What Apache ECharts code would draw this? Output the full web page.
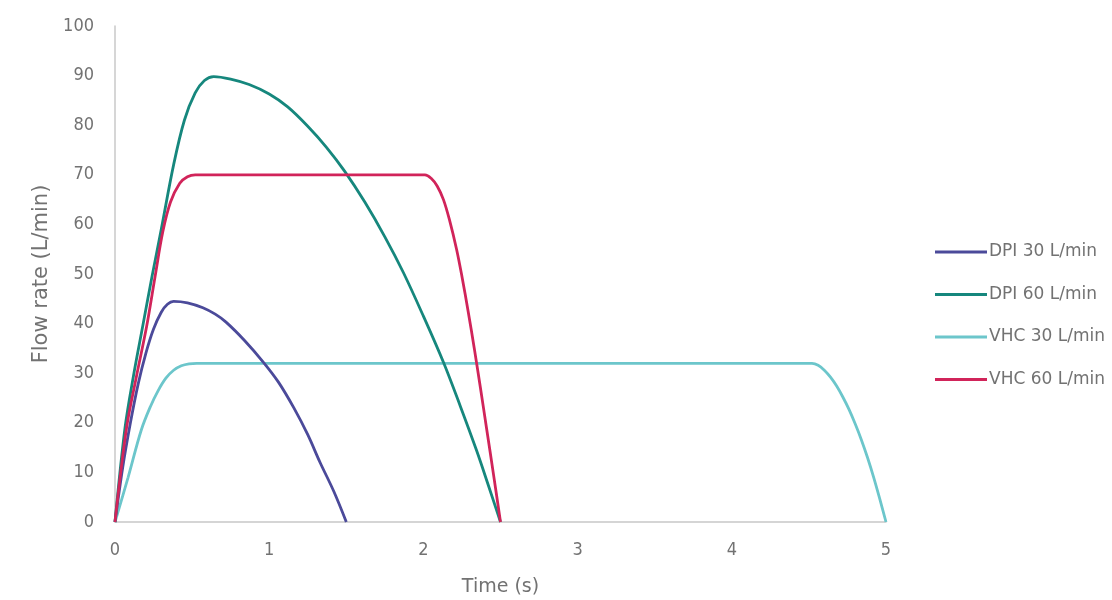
<!DOCTYPE html>
<html>
<head>
<meta charset="utf-8">
<script src="https://cdn.jsdelivr.net/npm/echarts@6/dist/echarts.min.js"></script>
<style>
html,body{margin:0;padding:0;background:#fff;}
#c{width:1112px;height:600px;}
</style>
</head>
<body>
<div id="c"></div>
<script>
var seriesNames = ['DPI 30 L/min', 'DPI 60 L/min', 'VHC 30 L/min', 'VHC 60 L/min'];
var xTicks = [0, 1, 2, 3, 4, 5];
var yTicks = [0, 10, 20, 30, 40, 50, 60, 70, 80, 90, 100];
// [time (s), flow rate (L/min)]
var dpi30 = [[0,0],[0.05,11],[0.1,20],[0.15,27.8],[0.2,34],[0.25,38.9],[0.3,42.3],[0.34,43.9],[0.38,44.5],[0.47,44.2],[0.57,43.2],[0.65,41.9],[0.72,40.3],[0.84,36.6],[0.96,32.3],[1.06,28.2],[1.16,23.0],[1.25,17.6],[1.33,12.0],[1.42,6.1],[1.5,0]];
var dpi60 = [[0,0],[0.065,19],[0.12,29.5],[0.18,39.5],[0.24,49.5],[0.3,59],[0.38,72],[0.45,81],[0.52,86.5],[0.58,89],[0.64,89.8],[0.75,89.3],[0.87,88.2],[1.0,86.3],[1.12,83.7],[1.25,79.8],[1.37,75.6],[1.49,70.7],[1.62,64.5],[1.75,57.5],[1.87,50.3],[2.0,41.5],[2.13,32.2],[2.24,23.3],[2.345,14.4],[2.42,7.5],[2.5,0]];
var vhc30 = [[0,0],[0.085,9],[0.17,18.5],[0.23,23.3],[0.28,26.5],[0.33,29],[0.38,30.6],[0.43,31.5],[0.48,31.9],[0.53,32],[4.52,32],[4.56,31.6],[4.6,30.6],[4.64,29.2],[4.68,27.4],[4.72,25.2],[4.76,22.7],[4.8,19.8],[4.84,16.6],[4.88,13],[4.92,9],[4.96,4.6],[5,0]];
var vhc60 = [[0,0],[0.075,19],[0.14,29.5],[0.205,39.4],[0.26,49.5],[0.31,58.5],[0.36,64.5],[0.42,68.3],[0.47,69.6],[0.52,70],[2.01,70],[2.05,69.3],[2.09,67.7],[2.13,65],[2.17,60.8],[2.215,55],[2.25,49.5],[2.29,42.5],[2.33,35],[2.37,27],[2.41,18.8],[2.455,9.5],[2.5,0]];
var colors = ['#4b4a9a', '#16877d', '#6cc6cb', '#d1245a'];

var fontFam = '"DejaVu Sans", sans-serif';
var numFam = '"DejaVu Sans Condensed", "DejaVu Sans", sans-serif';
var txtCol = '#727272';

var chart = echarts.init(document.getElementById('c'), null, {renderer: 'canvas'});
var dataArr = [dpi30, dpi60, vhc30, vhc60];
chart.setOption({
  animation: false,
  backgroundColor: '#ffffff',
  grid: {left: 115, right: 226, top: 26, bottom: 78, containLabel: false, outerBoundsMode: 'none'},
  legend: {
    orient: 'vertical',
    left: 930,
    top: 237,
    icon: 'rect',
    itemWidth: 52,
    itemHeight: 3,
    itemGap: 22.5,
    data: seriesNames,
    textStyle: {color: txtCol, fontSize: 17, fontFamily: fontFam, lineHeight: 20, padding: [0,0,0,-3]}
  },
  xAxis: {
    type: 'value',
    min: xTicks[0],
    max: xTicks[xTicks.length - 1],
    interval: 1,
    name: 'Time (s)',
    nameLocation: 'middle',
    nameGap: 56,
    nameTextStyle: {color: txtCol, fontSize: 19, fontFamily: fontFam},
    axisLine: {show: true, lineStyle: {color: '#c8c8c8', width: 1.5}},
    axisTick: {show: false},
    splitLine: {show: false},
    axisLabel: {color: txtCol, fontSize: 18, fontFamily: numFam, margin: 19}
  },
  yAxis: {
    type: 'value',
    min: yTicks[0],
    max: yTicks[yTicks.length - 1],
    interval: 10,
    name: 'Flow rate (L/min)',
    nameLocation: 'middle',
    nameGap: 63,
    nameTextStyle: {color: txtCol, fontSize: 21, fontFamily: fontFam},
    axisLine: {show: true, lineStyle: {color: '#c8c8c8', width: 1.5}},
    axisTick: {show: false},
    splitLine: {show: false},
    axisLabel: {color: txtCol, fontSize: 18, fontFamily: numFam, margin: 21}
  },
  series: seriesNames.map(function (n, i) {
    return {
      name: n,
      type: 'line',
      data: dataArr[i],
      smooth: 0.35,
      symbol: 'none',
      color: colors[i],
      lineStyle: {width: 2.8, color: colors[i]},
      z: i === 2 ? 1 : 2
    };
  })
});
</script>
</body>
</html>
